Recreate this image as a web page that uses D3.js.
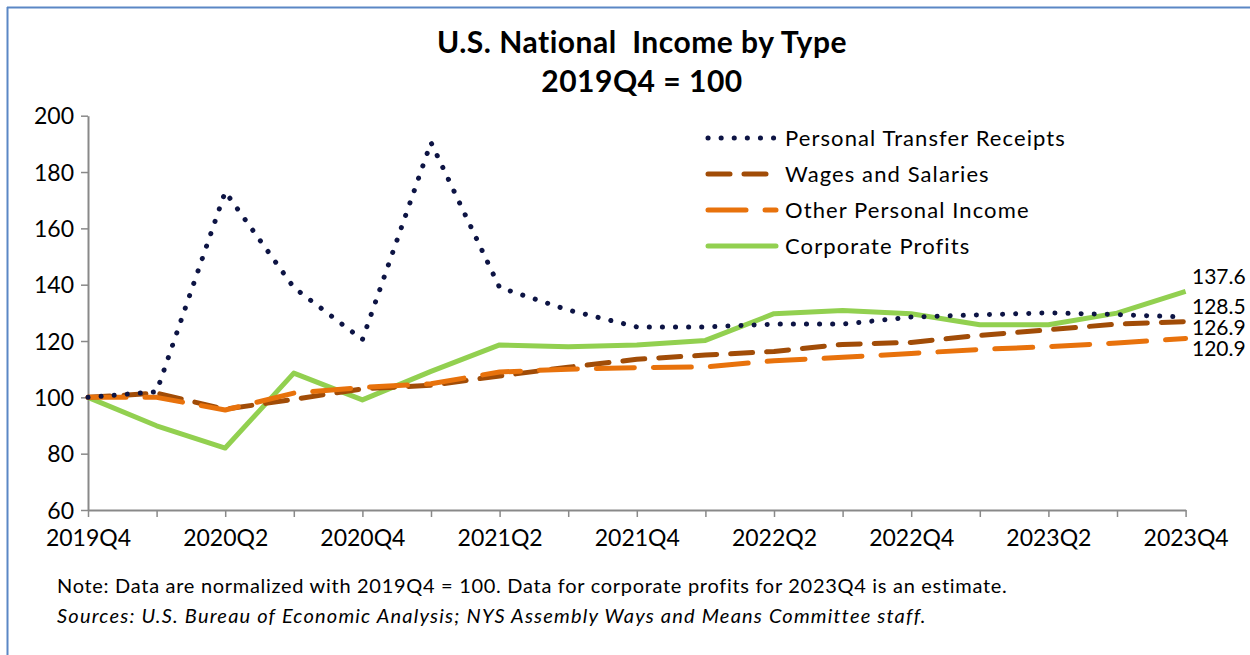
<!DOCTYPE html>
<html>
<head>
<meta charset="utf-8">
<script src="https://cdnjs.cloudflare.com/ajax/libs/d3/7.8.5/d3.min.js"></script>
<style>
  body { margin: 0; background: #fff; }
  svg { display: block; font-family: Lato, "Open Sans", sans-serif; }
</style>
</head>
<body>
<svg id="chart" width="1250" height="655"></svg>
<script>
// quarters on the x axis
var quarters = ["2019Q4","2020Q1","2020Q2","2020Q3","2020Q4","2021Q1","2021Q2","2021Q3","2021Q4",
                "2022Q1","2022Q2","2022Q3","2022Q4","2023Q1","2023Q2","2023Q3","2023Q4"];
var tickLabels = ["2019Q4","2020Q2","2020Q4","2021Q2","2021Q4","2022Q2","2022Q4","2023Q2","2023Q4"];
var yTicks = [60, 80, 100, 120, 140, 160, 180, 200];

// series values (2019Q4 = 100)
var transferReceipts = [100, 102, 173, 139, 120.5, 190.5, 139, 131, 125, 125, 126, 126, 128.5, 129.3, 130, 129.4, 128.5];
var wagesSalaries    = [100, 101.5, 95.8, 99.3, 103, 104.3, 107.6, 110.7, 113.5, 115, 116.3, 118.8, 119.5, 122, 124, 126, 126.9];
var otherIncome      = [100, 100, 95.5, 101.5, 103.5, 104.8, 109, 110, 110.5, 110.8, 113, 114.2, 115.6, 117, 118, 119.3, 120.9];
var corpProfits      = [100, 89.9, 82, 108.6, 99.1, 109.2, 118.6, 118, 118.6, 120.2, 129.7, 130.8, 129.7, 125.8, 125.8, 129.9, 137.6];

var series = [
  { name: "Personal Transfer Receipts", values: transferReceipts, color: "#0d1444", dash: "0.1 13", cap: "round" },
  { name: "Wages and Salaries", values: wagesSalaries, color: "#a14c07", dash: "22 14", cap: "round" },
  { name: "Other Personal Income", values: otherIncome, color: "#e8720c", dash: "38 19", cap: "round" },
  { name: "Corporate Profits", values: corpProfits, color: "#92d050", dash: null, cap: "butt" }
];

var svg = d3.select("#chart");

// frame
svg.append("line").attr("x1", 7).attr("x2", 1250).attr("y1", 7.5).attr("y2", 7.5)
  .attr("stroke", "#5b87c5").attr("stroke-width", 2);
svg.append("line").attr("x1", 7.5).attr("x2", 7.5).attr("y1", 7).attr("y2", 655)
  .attr("stroke", "#5b87c5").attr("stroke-width", 2);

var x = d3.scalePoint().domain(quarters).range([88, 1185.6]);
var y = d3.scaleLinear().domain([60, 200]).range([510, 115.7]);

// title
svg.append("text").attr("x", 642).attr("y", 53).attr("text-anchor", "middle")
  .attr("font-size", 30).attr("font-weight", "bold").attr("letter-spacing", 0.5).attr("fill", "#000")
  .attr("xml:space", "preserve").text("U.S. National  Income by Type");
svg.append("text").attr("x", 642).attr("y", 92).attr("text-anchor", "middle")
  .attr("font-size", 30).attr("font-weight", "bold").attr("letter-spacing", 0.5).attr("fill", "#000")
  .text("2019Q4 = 100");

// axes
var yAxis = svg.append("g").attr("transform", "translate(88,0)")
  .call(d3.axisLeft(y).tickValues(yTicks).tickSize(7).tickSizeOuter(0));
var xAxis = svg.append("g").attr("transform", "translate(0,510)")
  .call(d3.axisBottom(x).tickSize(7).tickSizeOuter(0)
    .tickFormat(function(d) { return tickLabels.indexOf(d) >= 0 ? d : ""; }));

[yAxis, xAxis].forEach(function(a) {
  a.select(".domain").attr("stroke", "#898989").attr("stroke-width", 2);
  a.selectAll(".tick line").attr("stroke", "#898989").attr("stroke-width", 1.5);
  a.selectAll("text").attr("font-family", "Lato, sans-serif").attr("font-size", 23).attr("fill", "#000");
});
yAxis.selectAll("text").attr("x", -14).attr("dy", "0.36em");
xAxis.selectAll("text").attr("y", 19).attr("dy", "0.72em");

// lines
var line = d3.line()
  .x(function(d, i) { return x(quarters[i]); })
  .y(function(d) { return y(d); });

var drawOrder = [3, 1, 2, 0];
drawOrder.forEach(function(k) {
  var s = series[k];
  svg.append("path")
    .datum(s.values)
    .attr("d", line)
    .attr("fill", "none")
    .attr("stroke", s.color)
    .attr("stroke-width", 5)
    .attr("stroke-linejoin", "round")
    .attr("stroke-linecap", s.cap)
    .attr("stroke-dasharray", s.dash);
});

// end labels
var endLabels = [
  { text: "137.6", y: 276 },
  { text: "128.5", y: 306 },
  { text: "126.9", y: 327 },
  { text: "120.9", y: 348 }
];
svg.selectAll(".endlabel").data(endLabels).enter().append("text")
  .attr("class", "endlabel")
  .attr("x", 1192).attr("y", function(d) { return d.y; })
  .attr("dy", "0.36em").attr("font-size", 21).attr("fill", "#000")
  .text(function(d) { return d.text; });

// legend
var legend = svg.append("g");
series.forEach(function(s, i) {
  var ly = 138 + i * 36;
  legend.append("line")
    .attr("x1", 708).attr("x2", 776).attr("y1", ly).attr("y2", ly)
    .attr("stroke", s.color).attr("stroke-width", 5)
    .attr("stroke-linecap", s.cap === "butt" ? "round" : s.cap)
    .attr("stroke-dasharray", s.dash);
  legend.append("text")
    .attr("x", 785).attr("y", ly).attr("dy", "0.36em")
    .attr("font-size", 22).attr("letter-spacing", 1.1).attr("fill", "#000")
    .text(s.name);
});

// notes
svg.append("text").attr("x", 57).attr("y", 586).attr("dy", "0.36em")
  .attr("font-size", 20).attr("letter-spacing", 0.7).attr("fill", "#000")
  .text("Note: Data are normalized with 2019Q4 = 100. Data for corporate profits for 2023Q4 is an estimate.");
svg.append("text").attr("x", 57).attr("y", 616).attr("dy", "0.36em")
  .attr("font-size", 20).attr("font-style", "italic").attr("letter-spacing", 1.2).attr("fill", "#000")
  .text("Sources: U.S. Bureau of Economic Analysis; NYS Assembly Ways and Means Committee staff.");
</script>
</body>
</html>
